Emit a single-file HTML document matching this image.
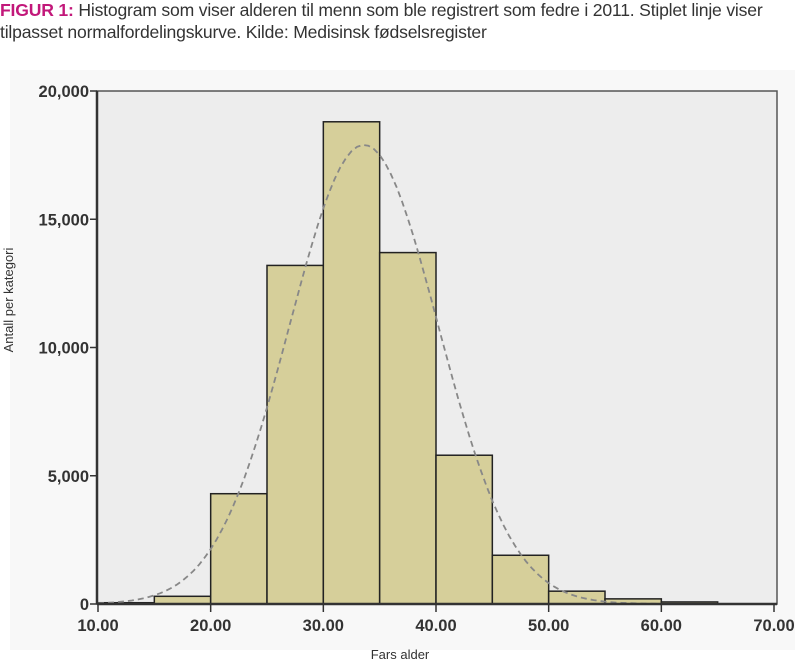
<!DOCTYPE html>
<html><head><meta charset="utf-8"><style>
body{margin:0;width:800px;height:670px;background:#fff;overflow:hidden;font-family:"Liberation Sans",sans-serif}
.t{position:absolute;left:0;top:-1px;font-size:17.6px;line-height:22px;color:#333;white-space:nowrap;letter-spacing:-0.2px}
.t b{color:#c2187a}
</style></head><body>
<div class="t"><b>FIGUR 1:</b> Histogram som viser alderen til menn som ble registrert som fedre i 2011. Stiplet linje viser<br>tilpasset normalfordelingskurve. Kilde: Medisinsk fødselsregister</div>
<svg width="800" height="670" style="position:absolute;left:0;top:0">
<rect x="10" y="70" width="785" height="580" fill="#f8f8f8"/>
<rect x="97" y="91" width="680" height="513" fill="#ededed" stroke="#555" stroke-width="1.5"/>
<g id="bars" fill="#d6cf9a" stroke="#222" stroke-width="1.5"></g>
<path id="curve" fill="none" stroke="#888" stroke-width="1.8" stroke-dasharray="6,4"/>
<line x1="97" y1="91" x2="97" y2="604" stroke="#333" stroke-width="2.5"/>
<line x1="97" y1="604" x2="777" y2="604" stroke="#333" stroke-width="2.5"/>
<g font-size="16.5" font-weight="bold" fill="#333" text-anchor="end" id="yt"></g>
<g font-size="16.5" font-weight="bold" fill="#333" text-anchor="middle" id="xt"></g>
<text x="400" y="659" font-size="13" fill="#333" text-anchor="middle">Fars alder</text>
<text transform="translate(13,300) rotate(-90)" font-size="13" fill="#333" text-anchor="middle">Antall per kategori</text>
</svg>
<script>
var X=a=>98+(a-10)*676/60, Y=v=>604-v*513/20000;
var d=[50,300,4300,13200,18800,13700,5800,1900,500,200,80],h='';
d.forEach((v,i)=>{var a=10+5*i;h+='<rect x="'+X(a)+'" y="'+Y(v)+'" width="'+(X(a+5)-X(a))+'" height="'+(604-Y(v))+'"/>';});
document.getElementById('bars').innerHTML=h;
var p='';for(var a=10;a<=65;a+=0.5){var v=17900*Math.exp(-Math.pow(a-33.6,2)/(2*6.6*6.6));p+=(a==10?'M':'L')+X(a).toFixed(1)+','+Y(v).toFixed(1);}
document.getElementById('curve').setAttribute('d',p);
var s='';[0,5000,10000,15000,20000].forEach(v=>{s+='<line x1="90" x2="97" y1="'+Y(v)+'" y2="'+Y(v)+'" stroke="#333" stroke-width="1.5"/><text x="89" y="'+(Y(v)+6)+'">'+(v?v.toLocaleString('en-US'):'0')+'</text>';});
document.getElementById('yt').innerHTML=s;
s='';for(var a=10;a<=70;a+=10){s+='<line x1="'+X(a)+'" x2="'+X(a)+'" y1="604" y2="612" stroke="#333" stroke-width="1.5"/><text x="'+X(a)+'" y="631">'+a+'.00</text>';}
document.getElementById('xt').innerHTML=s;
</script>
</body></html>
